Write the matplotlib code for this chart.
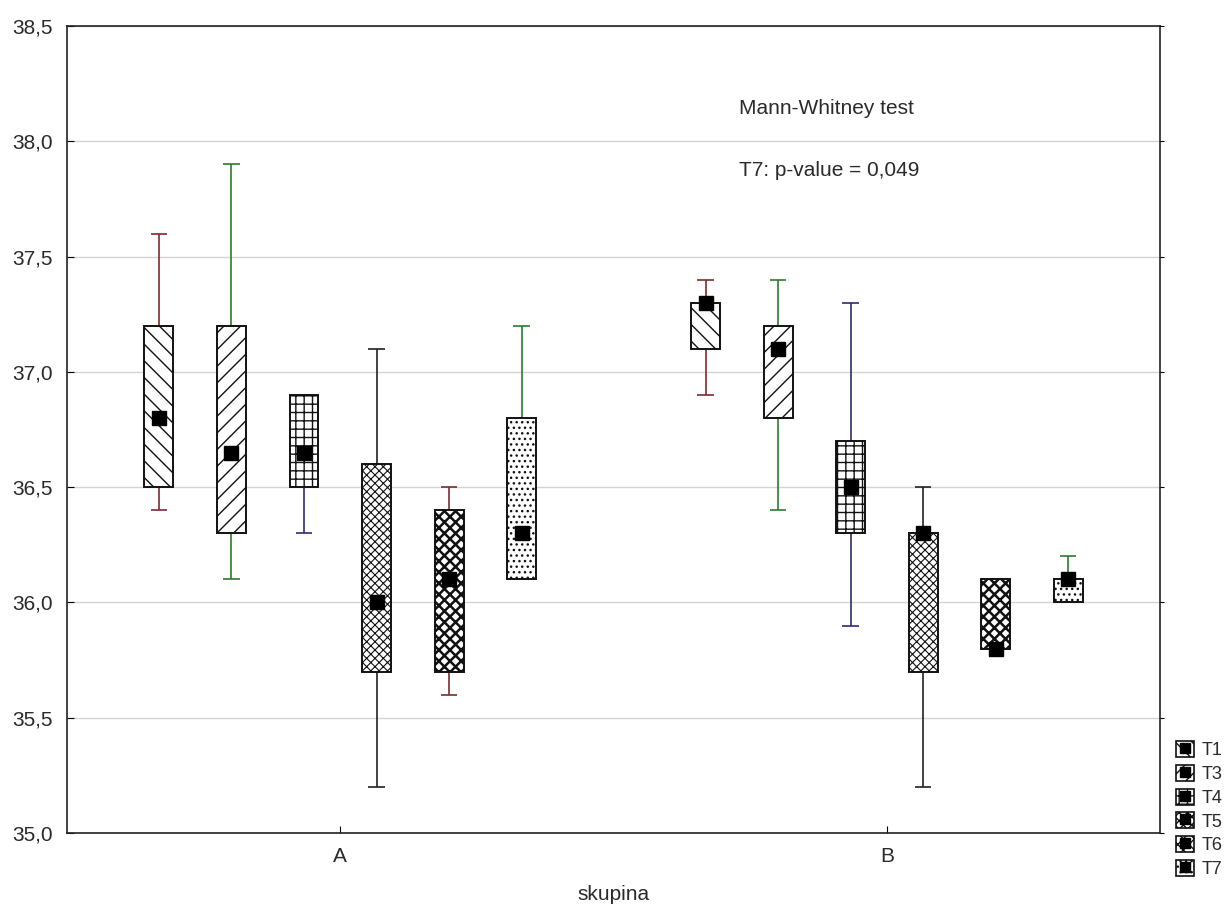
import matplotlib
matplotlib.use("Agg")
import matplotlib.pyplot as plt
from matplotlib.patches import Rectangle, Patch
from matplotlib.lines import Line2D
from matplotlib.ticker import FuncFormatter, MultipleLocator

plt.rcParams['font.family'] = ['Liberation Sans', 'DejaVu Sans']

# groups on the x axis and measured series inside each group
groups = ['A', 'B']
series = ['T1', 'T3', 'T4', 'T5', 'T6', 'T7']

# median, quartiles and min/max per series, one value per group
median = {
    'T1': [36.8, 37.3], 'T3': [36.65, 37.1], 'T4': [36.65, 36.5],
    'T5': [36.0, 36.3], 'T6': [36.1, 35.8], 'T7': [36.3, 36.1],
}
q1 = {
    'T1': [36.5, 37.1], 'T3': [36.3, 36.8], 'T4': [36.5, 36.3],
    'T5': [35.7, 35.7], 'T6': [35.7, 35.8], 'T7': [36.1, 36.0],
}
q3 = {
    'T1': [37.2, 37.3], 'T3': [37.2, 37.2], 'T4': [36.9, 36.7],
    'T5': [36.6, 36.3], 'T6': [36.4, 36.1], 'T7': [36.8, 36.1],
}
lo = {
    'T1': [36.4, 36.9], 'T3': [36.1, 36.4], 'T4': [36.3, 35.9],
    'T5': [35.2, 35.2], 'T6': [35.6, 35.8], 'T7': [36.1, 36.0],
}
hi = {
    'T1': [37.6, 37.4], 'T3': [37.9, 37.4], 'T4': [36.9, 37.3],
    'T5': [37.1, 36.5], 'T6': [36.5, 36.1], 'T7': [37.2, 36.2],
}

hatches = {'T1': '\\\\', 'T3': '//', 'T4': '++', 'T5': 'xxxx', 'T6': 'xxx', 'T7': '...'}
hatch_lw = {'T1': 1.0, 'T3': 1.0, 'T4': 1.0, 'T5': 0.8, 'T6': 1.8, 'T7': 1.0}
wcolors = {'T1': '#7b2e2e', 'T3': '#2f7a2f', 'T4': '#2d2d6e',
           'T5': '#222222', 'T6': '#7b2e2e', 'T7': '#2f7a2f'}

step = 0.1327
box_w = 0.053
cap_w = 0.03

fig = plt.figure(figsize=(12.29, 9.13), dpi=100)
ax = fig.add_axes([0.0545, 0.0876, 0.8895, 0.8839])

for k, s in enumerate(series):
    off = (k - 2.5) * step
    for g in range(len(groups)):
        x = g + off
        c = wcolors[s]
        ax.vlines(x, lo[s][g], hi[s][g], colors=c, lw=1.2, zorder=2)
        ax.hlines([lo[s][g], hi[s][g]], x - cap_w / 2, x + cap_w / 2,
                  colors=c, lw=1.2, zorder=2)
        plt.rcParams['hatch.linewidth'] = hatch_lw[s]
        r = Rectangle((x - box_w / 2, q1[s][g]), box_w, q3[s][g] - q1[s][g],
                      facecolor='white', edgecolor='#111111', hatch=hatches[s],
                      lw=1.4, zorder=3)
        if hasattr(r, 'set_hatch_linewidth'):
            r.set_hatch_linewidth(hatch_lw[s])
        ax.add_patch(r)
        ax.plot(x, median[s][g], marker='s', ms=10, color='black',
                linestyle='none', zorder=4)

ax.set_xlim(-0.5, 1.5)
ax.set_ylim(35.0, 38.5)
ax.set_xticks(range(len(groups)))
ax.set_xticklabels(groups)
ax.yaxis.set_major_locator(MultipleLocator(0.5))
ax.yaxis.set_major_formatter(FuncFormatter(lambda v, p: f'{v:.1f}'.replace('.', ',')))
ax.tick_params(axis='both', direction='in', length=5, labelsize=15,
               labelcolor='#2a2a2a', pad=10)
ax.yaxis.set_ticks_position('left')
ax.grid(axis='y', color='#d4d4d4', lw=1.0, zorder=0)
ax.set_axisbelow(True)
for sp in ax.spines.values():
    sp.set_linewidth(1.2)
    sp.set_color('#222222')
ax.set_xlabel('skupina', fontsize=15, color='#2a2a2a', labelpad=14)

# small outward ticks on the right edge
rax = ax.twinx()
rax.set_ylim(ax.get_ylim())
rax.yaxis.set_major_locator(MultipleLocator(0.5))
rax.tick_params(axis='y', direction='out', length=3, labelright=False)
rax.spines[:].set_visible(False)

ax.text(0.73, 38.12, 'Mann-Whitney test', fontsize=15, color='#2a2a2a')
ax.text(0.73, 37.85, 'T7: p-value = 0,049', fontsize=15, color='#2a2a2a')

# legend icons: hatched square with the median marker inside
handles = []
for s in series:
    plt.rcParams['hatch.linewidth'] = hatch_lw[s]
    p = Patch(facecolor='white', edgecolor='#111111', hatch=hatches[s], lw=1.2)
    m = Line2D([], [], marker='s', ms=7, color='black', linestyle='none')
    handles.append((p, m))
fig.legend(handles, series, loc='upper left', bbox_to_anchor=(0.948, 0.2),
           frameon=False, fontsize=13, handlelength=1.0, handleheight=1.0,
           handletextpad=0.4, labelspacing=0.3, borderpad=0.1,
           labelcolor='#2a2a2a')

fig.savefig('out.png', dpi=100)
